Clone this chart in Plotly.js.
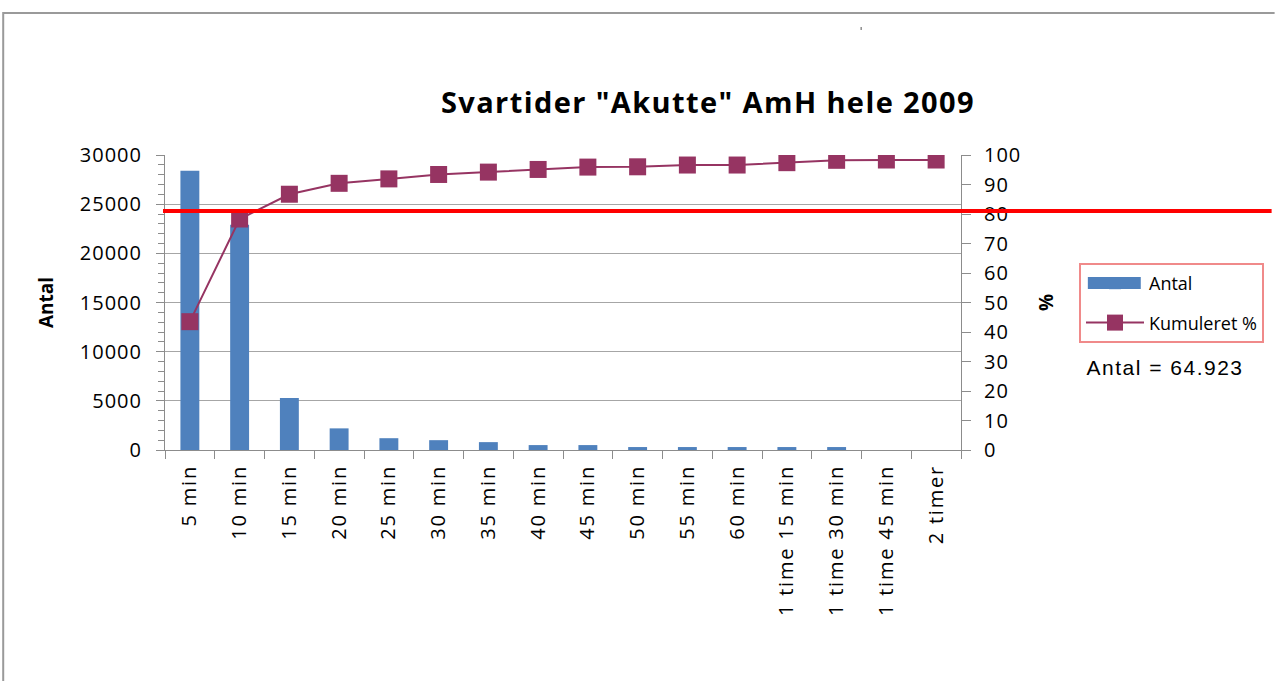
<!DOCTYPE html>
<html>
<head>
<meta charset="utf-8">
<script src="https://cdn.plot.ly/plotly-3.0.1.min.js"></script>
<style>
html,body{margin:0;padding:0;background:#fff;}
#chart{width:1275px;height:681px;}
#chart .xtick text{letter-spacing:1.8px;}
#chart .ytick text, #chart .y2tick text{letter-spacing:1px;}
#chart text.gtitle{letter-spacing:1.4px;}
#chart text.annotation-text{letter-spacing:1.5px;}
</style>
</head>
<body>
<div id="chart"></div>
<script>
// ---- data ----
var categories = ["5 min","10 min","15 min","20 min","25 min","30 min","35 min","40 min","45 min","50 min","55 min","60 min","1 time 15 min","1 time 30 min","1 time 45 min","2 timer"];
var antal = [28400, 22900, 5300, 2200, 1200, 1000, 800, 500, 500, 300, 300, 300, 300, 300, 0, 0];
var kumuleret = [43.5, 78.3, 86.7, 90.4, 91.9, 93.4, 94.2, 95.1, 95.9, 96.0, 96.6, 96.6, 97.4, 98.2, 98.3, 98.3];
var targetPct = 81;
var leftTicks = [0, 5000, 10000, 15000, 20000, 25000, 30000];
var rightTicks = [0,10,20,30,40,50,60,70,80,90,100];
var titleText = 'Svartider "Akutte" AmH hele 2009';
var totalText = 'Antal = 64.923';

// ---- layout geometry (pixels) ----
var W = 1275, H = 681;
var L = 165, R = 962, T = 155, B = 450;
var pw = R - L, ph = B - T;
function px(x){ return (x - L) / pw; }
function py(y){ return (B - y) / ph; }

var font = "'Open Sans', 'Noto Sans', sans-serif";
var gray = '#8c8c8c';
var barColor = '#4f81bd';
var lineColor = '#963462';

var traces = [
  {
    type: 'bar', name: 'Antal', x: categories, y: antal,
    marker: {color: barColor}, yaxis: 'y', legendgroup: 'a'
  },
  {
    type: 'scatter', mode: 'lines+markers', name: 'Kumuleret %', x: categories, y: kumuleret,
    yaxis: 'y2', line: {color: lineColor, width: 2},
    marker: {symbol: 'square', size: 17, color: lineColor}, legendgroup: 'b'
  }
];

var layout = {
  width: W, height: H,
  margin: {l: L, r: W - R, t: T, b: H - B, pad: 0},
  paper_bgcolor: '#fff', plot_bgcolor: '#fff',
  font: {family: font, color: '#000', size: 20},
  bargap: 0.62,
  showlegend: true,
  title: {
    text: titleText, x: 708 / W, xref: 'container', xanchor: 'center',
    y: 1 - 103 / H, yref: 'container', yanchor: 'middle',
    font: {family: font, size: 29, weight: 700, color: '#000'}
  },
  xaxis: {
    type: 'category', range: [-0.5, categories.length - 0.5], tickangle: -90, tickson: 'boundaries',
    ticks: 'outside', ticklen: 8, tickcolor: gray, tickwidth: 1,
    showline: true, linecolor: gray, linewidth: 1,
    showgrid: false, zeroline: false,
    tickfont: {family: font, size: 20, color: '#000'}, ticklabelstandoff: 6,
    fixedrange: true
  },
  yaxis: {
    range: [0, 30000], tickvals: leftTicks, ticktext: leftTicks.map(String),
    ticks: 'outside', ticklen: 8, tickcolor: gray,
    minor: {dtick: 1000, ticks: 'outside', ticklen: 6, tickcolor: gray, showgrid: false},
    showline: true, linecolor: gray, linewidth: 1,
    showgrid: true, gridcolor: '#a6a6a6', gridwidth: 1, zeroline: false,
    tickfont: {family: font, size: 20, color: '#000'}, ticklabelstandoff: 10,
    title: {text: 'Antal', font: {family: font, size: 19, weight: 700, color: '#000'}, standoff: 26},
    fixedrange: true
  },
  yaxis2: {
    overlaying: 'y', side: 'right', anchor: 'x',
    range: [0, 100], tickvals: rightTicks, ticktext: rightTicks.map(String),
    ticks: 'outside', ticklen: 9, tickcolor: gray,
    showline: true, linecolor: gray, linewidth: 1,
    showgrid: false, zeroline: false,
    tickfont: {family: font, size: 20, color: '#000'}, ticklabelstandoff: 9,
    title: {text: '%', font: {family: font, size: 19, weight: 700, color: '#000'}, standoff: 22},
    fixedrange: true
  },
  legend: {
    x: px(1079), y: py(263), xanchor: 'left', yanchor: 'top',
    bordercolor: '#f08a8a', borderwidth: 2, bgcolor: 'rgba(0,0,0,0)',
    font: {family: font, size: 18, color: '#000'},
    traceorder: 'grouped', tracegroupgap: 13, itemwidth: 58
  },
  shapes: [
    // 81% target line
    {type: 'line', xref: 'paper', yref: 'paper', x0: px(163), x1: px(1273), y0: targetPct / 100, y1: targetPct / 100,
     line: {color: '#ff0000', width: 4}},
    // outer frame (top & left edges)
    {type: 'line', xref: 'paper', yref: 'paper', x0: px(3), x1: px(1276), y0: py(13), y1: py(13),
     line: {color: '#9a9a9a', width: 2}},
    {type: 'line', xref: 'paper', yref: 'paper', x0: px(3), x1: px(3), y0: py(12), y1: py(682),
     line: {color: '#9a9a9a', width: 2}},
    // wide legend swatch for the bar series
    {type: 'rect', xref: 'paper', yref: 'paper', x0: px(1089), x1: px(1142), y0: py(289), y1: py(277),
     line: {width: 0}, fillcolor: barColor},
    // tiny stray mark
    {type: 'line', xref: 'paper', yref: 'paper', x0: px(862), x1: px(862), y0: py(27), y1: py(30),
     line: {color: '#555', width: 1}}
  ],
  annotations: [
    {text: totalText, xref: 'paper', yref: 'paper', x: px(1096), y: py(367), xanchor: 'left', yanchor: 'middle',
     showarrow: false, font: {family: "'Liberation Sans', Arial, sans-serif", size: 21, color: '#000'}}
  ]
};

Plotly.newPlot('chart', traces, layout, {displayModeBar: false, staticPlot: true});
</script>
</body>
</html>
